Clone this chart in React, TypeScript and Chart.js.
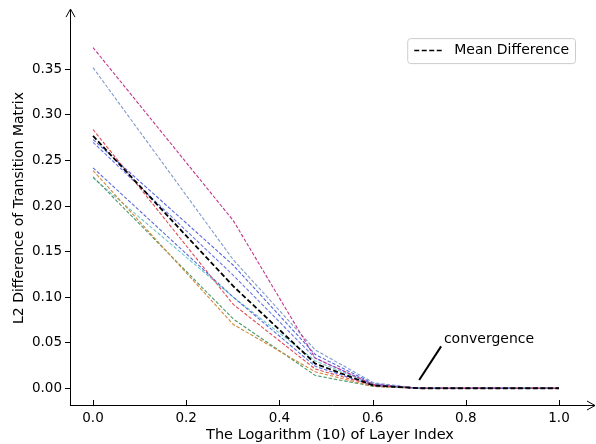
import React, { useEffect, useRef } from "react";
import { Chart, registerables } from "chart.js";

Chart.register(...registerables);

// log10 of layer index 1..10
const layerLogX = [0, 0.301, 0.477, 0.602, 0.699, 0.778, 0.845, 0.903, 0.954, 1.0];

const seriesMagenta = [0.374, 0.184, 0.033, 0.004, 0, 0, 0, 0, 0, 0];
const seriesSteel = [0.352, 0.141, 0.042, 0.006, 0, 0, 0, 0, 0, 0];
const seriesRed = [0.284, 0.092, 0.021, 0.003, 0, 0, 0, 0, 0, 0];
const seriesBlueA = [0.273, 0.135, 0.037, 0.005, 0, 0, 0, 0, 0, 0];
const seriesBlueB = [0.27, 0.124, 0.033, 0.004, 0, 0, 0, 0, 0, 0];
const seriesBlueC = [0.242, 0.1, 0.024, 0.003, 0, 0, 0, 0, 0, 0];
const seriesOrange = [0.239, 0.07, 0.018, 0.002, 0, 0, 0, 0, 0, 0];
const seriesGreen = [0.232, 0.076, 0.014, 0.002, 0, 0, 0, 0, 0, 0];
const seriesCyan = [0.231, 0.1, 0.03, 0.004, 0, 0, 0, 0, 0, 0];
const meanDifference = [0.277, 0.112, 0.027, 0.003, 0, 0, 0, 0, 0, 0];

const seriesList = [
  { values: seriesMagenta, color: "#c0368e" },
  { values: seriesSteel, color: "#7f9ccc" },
  { values: seriesRed, color: "#e04a55" },
  { values: seriesBlueA, color: "#5566e0" },
  { values: seriesBlueB, color: "#6a78e8" },
  { values: seriesBlueC, color: "#5b6cdc" },
  { values: seriesOrange, color: "#d08a3c" },
  { values: seriesGreen, color: "#4f9a6c" },
  { values: seriesCyan, color: "#6cc6c8" },
];

const xTickValues = [0, 0.2, 0.4, 0.6, 0.8, 1.0];
const yTickValues = [0, 0.05, 0.1, 0.15, 0.2, 0.25, 0.3, 0.35];

const meanLabel = "Mean Difference";
const annotationText = "convergence";
const xTitle = "The Logarithm (10) of Layer Index";
const yTitle = "L2 Difference of Transition Matrix";

const FONT = "'DejaVu Sans', sans-serif";

const decorPlugin = {
  id: "decor",
  afterDraw(chart: any) {
    const ctx = chart.ctx;
    const { left, right, top, bottom } = chart.chartArea;
    const xs = chart.scales.x;
    const ys = chart.scales.y;
    ctx.save();
    ctx.strokeStyle = "#000";
    ctx.fillStyle = "#000";
    ctx.lineWidth = 1;
    // inward x ticks
    for (const v of xTickValues) {
      const px = Math.round(xs.getPixelForValue(v)) + 0.5;
      ctx.beginPath();
      ctx.moveTo(px, bottom);
      ctx.lineTo(px, bottom - 5);
      ctx.stroke();
    }
    // arrows
    const lx = Math.round(left) + 0.5;
    const by = Math.round(bottom) + 0.5;
    ctx.beginPath();
    ctx.moveTo(lx, top);
    ctx.lineTo(lx, top - 2);
    ctx.moveTo(lx - 4.5, top + 6);
    ctx.lineTo(lx, top - 2);
    ctx.lineTo(lx + 4.5, top + 6);
    ctx.stroke();
    ctx.beginPath();
    ctx.moveTo(right, by);
    ctx.lineTo(right + 1, by);
    ctx.moveTo(right - 7, by - 4.5);
    ctx.lineTo(right + 1, by);
    ctx.lineTo(right - 7, by + 4.5);
    ctx.stroke();

    // titles
    ctx.font = `14.5px ${FONT}`;
    ctx.textAlign = "center";
    ctx.textBaseline = "middle";
    ctx.fillText(xTitle, 330, 435);
    ctx.save();
    ctx.translate(19, 208);
    ctx.rotate(-Math.PI / 2);
    ctx.font = `14px ${FONT}`;
    ctx.fillText(yTitle, 0, 0);
    ctx.restore();

    // annotation
    ctx.lineWidth = 2;
    ctx.beginPath();
    ctx.moveTo(xs.getPixelForValue(0.7), ys.getPixelForValue(0.009));
    ctx.lineTo(xs.getPixelForValue(0.747), ys.getPixelForValue(0.046));
    ctx.stroke();
    ctx.font = `14px ${FONT}`;
    ctx.textAlign = "left";
    ctx.textBaseline = "middle";
    ctx.fillText(annotationText, xs.getPixelForValue(0.753), ys.getPixelForValue(0.054));

    // legend
    ctx.font = `14px ${FONT}`;
    const tw = ctx.measureText(meanLabel).width;
    const boxW = 7 + 28 + 12 + tw + 6;
    const boxH = 25;
    const bx = right - 19 - boxW;
    const byy = top + 27;
    ctx.lineWidth = 1;
    ctx.strokeStyle = "#cccccc";
    ctx.fillStyle = "rgba(255,255,255,0.8)";
    const r = 3;
    ctx.beginPath();
    ctx.moveTo(bx + r + 0.5, byy + 0.5);
    ctx.arcTo(bx + boxW + 0.5, byy + 0.5, bx + boxW + 0.5, byy + boxH + 0.5, r);
    ctx.arcTo(bx + boxW + 0.5, byy + boxH + 0.5, bx + 0.5, byy + boxH + 0.5, r);
    ctx.arcTo(bx + 0.5, byy + boxH + 0.5, bx + 0.5, byy + 0.5, r);
    ctx.arcTo(bx + 0.5, byy + 0.5, bx + boxW + 0.5, byy + 0.5, r);
    ctx.closePath();
    ctx.fill();
    ctx.stroke();
    ctx.strokeStyle = "#000";
    ctx.lineWidth = 1.5;
    ctx.setLineDash([5, 2.5]);
    ctx.beginPath();
    ctx.moveTo(bx + 7, byy + boxH / 2);
    ctx.lineTo(bx + 35, byy + boxH / 2);
    ctx.stroke();
    ctx.setLineDash([]);
    ctx.fillStyle = "#000";
    ctx.fillText(meanLabel, bx + 47, byy + boxH / 2);
    ctx.restore();
  },
};

export default function App() {
  const ref = useRef<HTMLCanvasElement>(null);
  useEffect(() => {
    if (!ref.current) return;
    const datasets: any[] = [
      {
        label: meanLabel,
        data: layerLogX.map((x, i) => ({ x, y: meanDifference[i] })),
        borderColor: "#000",
        borderWidth: 1.8,
        borderDash: [5, 2.5],
        pointRadius: 0,
        fill: false,
        tension: 0,
        order: 0,
      },
      ...seriesList.map((s, k) => ({
        label: "s" + k,
        data: layerLogX.map((x, i) => ({ x, y: s.values[i] })),
        borderColor: s.color,
        borderWidth: 1.1,
        borderDash: [3.5, 1.8],
        pointRadius: 0,
        fill: false,
        tension: 0,
        order: 1,
      })),
    ];
    const chart = new Chart(ref.current, {
      type: "line",
      data: { datasets },
      options: {
        animation: false,
        responsive: false,
        devicePixelRatio: 1,
        layout: { padding: { top: 5, right: 2, left: 0, bottom: 0 } },
        plugins: {
          legend: { display: false },
          tooltip: { enabled: false },
        },
        scales: {
          x: {
            type: "linear",
            min: -0.0494,
            max: 1.0751,
            afterFit: (s: any) => {
              s.height = 39;
            },
            afterBuildTicks: (s: any) => {
              s.ticks = xTickValues.map((v) => ({ value: v }));
            },
            grid: { display: true, drawOnChartArea: false, drawTicks: false },
            border: { display: true, color: "#000", width: 1 },
            ticks: {
              color: "#000",
              font: { family: FONT, size: 13.5 },
              padding: 5,
              callback: (v: any) => Number(v).toFixed(1),
            },
            title: { display: false },
          },
          y: {
            type: "linear",
            min: -0.0184,
            max: 0.414,
            afterFit: (s: any) => {
              s.width = 70;
            },
            afterBuildTicks: (s: any) => {
              s.ticks = yTickValues.map((v) => ({ value: v }));
            },
            grid: {
              display: true,
              drawOnChartArea: false,
              drawTicks: true,
              tickLength: 5,
              color: "#000",
            },
            border: { display: true, color: "#000", width: 1 },
            ticks: {
              color: "#000",
              font: { family: FONT, size: 13.5 },
              padding: 3,
              callback: (v: any) => Number(v).toFixed(2),
            },
            title: { display: false },
          },
        },
      },
      plugins: [decorPlugin],
    });
    return () => chart.destroy();
  }, []);
  return (
    <div style={{ position: "absolute", left: 0, top: 0, width: 596, height: 444, background: "#fff" }}>
      <canvas ref={ref} width={596} height={444} style={{ display: "block" }} />
    </div>
  );
}
